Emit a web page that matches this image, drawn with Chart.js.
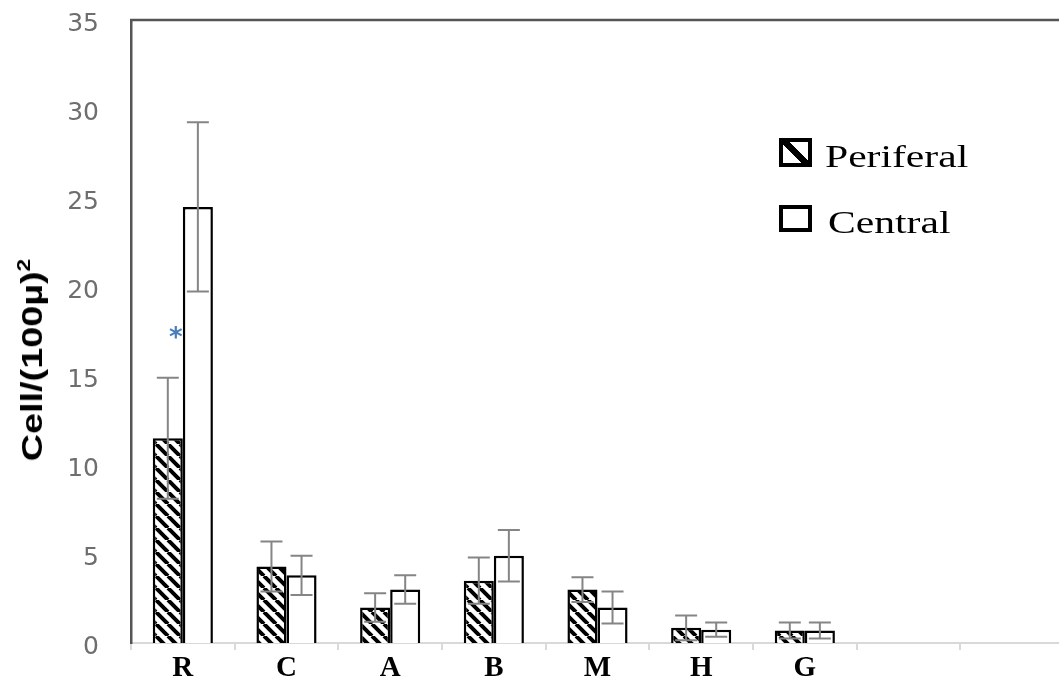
<!DOCTYPE html>
<html>
<head>
<meta charset="utf-8">
<script src="https://cdn.jsdelivr.net/npm/chart.js@4.4.1/dist/chart.umd.min.js"></script>
<style>
  html, body { margin: 0; padding: 0; background: #fff; overflow: hidden; }
  #wrap { position: relative; width: 1064px; height: 684px; }
  #ytitle {
    position: absolute; left: 32px; top: 360px;
    transform: translate(-50%, -50%) rotate(-90deg) scaleX(1.26);
    white-space: nowrap; font: bold 30px 'Liberation Sans', Arial, sans-serif; color: #000;
    line-height: 1;
  }
  #ytitle sup { font-size: 18px; vertical-align: 12px; line-height: 0; }
  .lbox { position: absolute; box-sizing: border-box; border: 4px solid #000; width: 33px; }
  .ltext {
    position: absolute; font: 32px 'Liberation Serif', 'Times New Roman', serif; color: #000;
    line-height: 1; white-space: nowrap; transform-origin: 0 50%; transform: scaleX(1.3);
  }
</style>
</head>
<body>
<div id="wrap">
  <canvas id="c"></canvas>
  <div id="ytitle">Cell/(100µ)<sup>2</sup></div>
  <div class="lbox" style="left:779px;top:138px;height:29px;background:linear-gradient(45deg,#fff 40%,#000 40%,#000 60%,#fff 60%);"></div>
  <div class="ltext" style="left:825px;top:140px;">Periferal</div>
  <div class="lbox" style="left:779px;top:205px;height:27px;background:#fff;"></div>
  <div class="ltext" style="left:828px;top:206px;">Central</div>
</div>
<script>
// ---- data ----
const categories = ['R', 'C', 'A', 'B', 'M', 'H', 'G', '', ''];
const periferal    = [11.5, 4.3, 2.0, 3.5, 3.0, 0.85, 0.7, null, null];
const periferalErr = [3.4, 1.4, 0.8, 1.3, 0.7, 0.7, 0.45, null, null];
const central      = [24.5, 3.8, 3.0, 4.9, 2.0, 0.75, 0.7, null, null];
const centralErr   = [4.75, 1.1, 0.8, 1.45, 0.9, 0.4, 0.45, null, null];
const yTickValues  = [0, 5, 10, 15, 20, 25, 30, 35];
const starCategory = [0];      // index of category with significance mark
const starValue    = [17.4];   // y value of the mark

// ---- hatch pattern ----
function makeHatch() {
  const s = 12;
  const pc = document.createElement('canvas');
  pc.width = s; pc.height = s;
  const p = pc.getContext('2d');
  p.fillStyle = '#fff'; p.fillRect(0, 0, s, s);
  p.strokeStyle = '#000'; p.lineWidth = 4;
  p.beginPath();
  for (const o of [-s, 0, s]) { p.moveTo(o, 0); p.lineTo(o + s, s); }
  p.stroke();
  return document.getElementById('c').getContext('2d').createPattern(pc, 'repeat');
}

const errorBars = {
  id: 'errorBars',
  afterDatasetsDraw(chart) {
    const ctx = chart.ctx, y = chart.scales.y;
    [[0, periferalErr], [1, centralErr]].forEach(([di, errs]) => {
      const meta = chart.getDatasetMeta(di);
      const vals = chart.data.datasets[di].data;
      meta.data.forEach((bar, i) => {
        const v = vals[i], e = errs[i];
        if (v == null || e == null) return;
        const yt = y.getPixelForValue(v + e), yb = y.getPixelForValue(v - e);
        ctx.save();
        ctx.strokeStyle = '#858585'; ctx.lineWidth = 2;
        ctx.beginPath();
        ctx.moveTo(bar.x, yt); ctx.lineTo(bar.x, yb);
        ctx.moveTo(bar.x - 11, yt); ctx.lineTo(bar.x + 11, yt);
        ctx.moveTo(bar.x - 11, yb); ctx.lineTo(bar.x + 11, yb);
        ctx.stroke();
        ctx.restore();
      });
    });
    // significance mark
    const meta0 = chart.getDatasetMeta(0);
    starCategory.forEach((ci, k) => {
      const bar = meta0.data[ci];
      ctx.save();
      ctx.fillStyle = '#4a7ebb';
      ctx.font = 'bold 26px "DejaVu Sans", sans-serif';
      ctx.textAlign = 'center'; ctx.textBaseline = 'middle';
      ctx.fillText('*', bar.x + 8, y.getPixelForValue(starValue[k]) + 6);
      ctx.restore();
    });
  }
};

const topFrame = {
  id: 'topFrame',
  afterDraw(chart) {
    const {ctx, chartArea} = chart;
    ctx.save();
    ctx.strokeStyle = '#555'; ctx.lineWidth = 2.5;
    ctx.beginPath();
    ctx.moveTo(chartArea.left - 1, chartArea.top);
    ctx.lineTo(chartArea.right, chartArea.top);
    ctx.stroke();
    ctx.restore();
  }
};

const hatch = makeHatch();

new Chart(document.getElementById('c'), {
  type: 'bar',
  data: {
    labels: categories,
    datasets: [
      { label: 'Periferal', data: periferal, backgroundColor: hatch, borderColor: '#000', borderWidth: 2.5 },
      { label: 'Central', data: central, backgroundColor: '#fff', borderColor: '#000', borderWidth: 2.5 }
    ]
  },
  options: {
    responsive: true,
    maintainAspectRatio: false,
    animation: false,
    devicePixelRatio: 1,
    layout: { padding: { top: 20, right: 0, left: 0, bottom: 0 } },
    datasets: { bar: { categoryPercentage: 0.58, barPercentage: 1.0 } },
    plugins: { legend: { display: false }, tooltip: { enabled: false } },
    scales: {
      x: {
        grid: { display: true, drawOnChartArea: false, drawTicks: true, tickLength: 7, color: '#d9d9d9', lineWidth: 2, offset: true },
        border: { display: true, color: '#d9d9d9', width: 2 },
        ticks: { color: '#000', font: { family: 'Liberation Serif', weight: 'bold', size: 29 }, padding: 1, maxRotation: 0, autoSkip: false },
        afterFit(s) { s.height = 41; }
      },
      y: {
        min: 0, max: 35,
        afterBuildTicks(s) { s.ticks = yTickValues.map(v => ({ value: v })); },
        grid: { display: false, drawTicks: false },
        border: { display: true, color: '#555', width: 2.5 },
        ticks: { color: '#6e6e6e', font: { family: 'DejaVu Sans', size: 25 }, padding: 32, labelOffset: 4 },
        afterFit(s) { s.width = 131; s.paddingTop = 0; s.paddingBottom = 0; }
      }
    }
  },
  plugins: [errorBars, topFrame]
});
</script>
</body>
</html>
